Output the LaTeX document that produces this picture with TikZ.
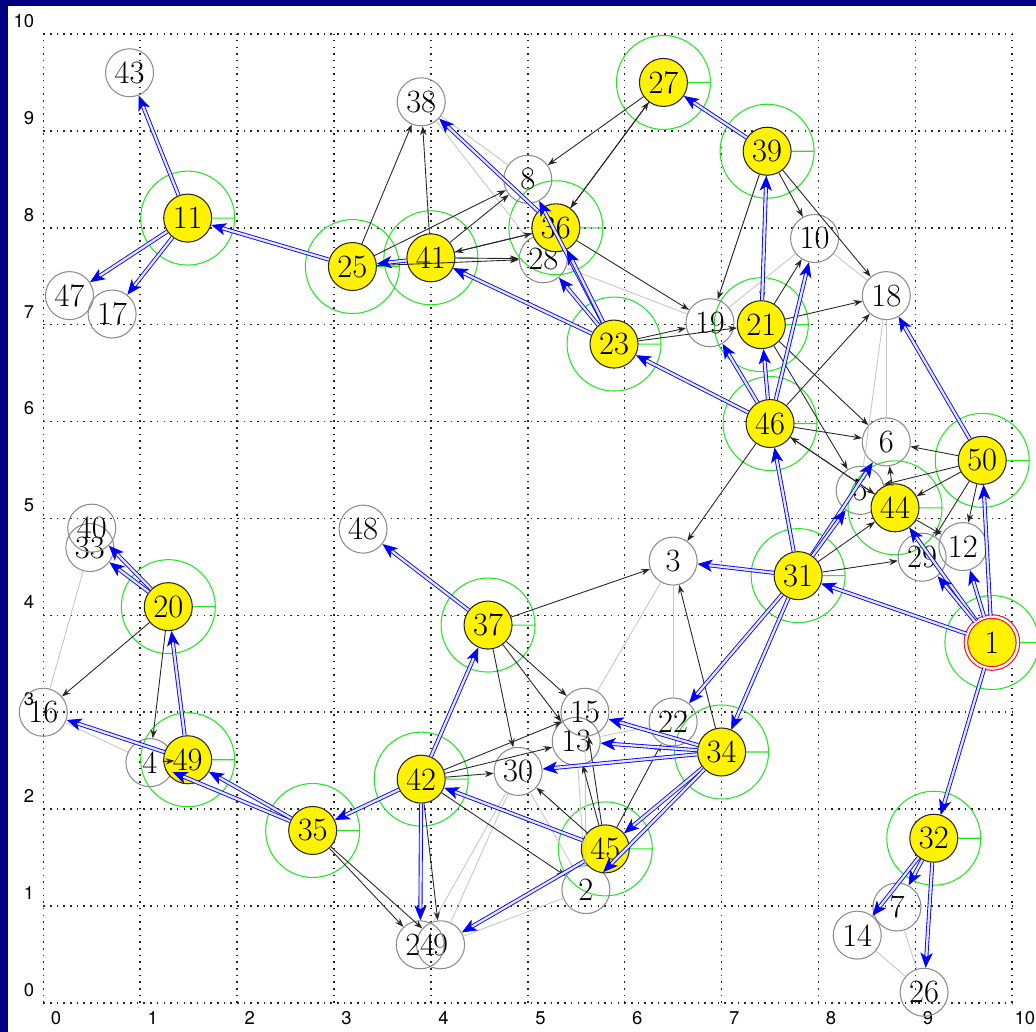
\documentclass[tikz,border=0pt]{standalone}
\usepackage{fontspec}
\newfontfamily\tickfont{TeX Gyre Heros}
\usepackage{tikz}
\usetikzlibrary{arrows.meta,backgrounds}
\definecolor{frame}{HTML}{000080}
\definecolor{ringgreen}{HTML}{22E622}
\definecolor{flowblue}{HTML}{0000FF}

\begin{document}
\begin{tikzpicture}[x=1.938cm,y=1.938cm,
    plain/.style={circle,draw=black!45,line width=0.6pt,minimum size=0.96cm,
                  inner sep=0pt,font=\fontsize{18.5}{20}\selectfont},
    hub/.style={plain,draw=black!85,fill=yellow},
    root/.style={hub,draw=red,double=white,double distance=1.4pt,minimum size=1.04cm},
    ring/.style={ringgreen,line width=0.6pt},
    gridline/.style={black!85,line width=0.9pt,dash pattern=on 0.9pt off 2.9pt},
    tick/.style={font=\tickfont\fontsize{10.5}{12}\selectfont,inner sep=0pt},
    arr/.style={-{Stealth[length=5pt,width=3.6pt]},black!85,line width=0.5pt},
    flow/.style={-{Stealth[length=8.5pt,width=7pt,inset=2.2pt]},draw=flowblue,
                 double=blue!10,double distance=1.3pt,line width=0.5pt},
    link/.style={black!22,line width=0.5pt}]
  \useasboundingbox (-0.447,-0.299) rectangle (10.245,10.351);

  % sensors
  \node[root] (n1) at (9.79,3.72) {1};
  \node[plain] (n2) at (5.60,1.17) {2};
  \node[plain] (n3) at (6.50,4.56) {3};
  \node[plain] (n4) at (1.10,2.48) {4};
  \node[plain] (n5) at (8.43,5.29) {5};
  \node[plain] (n6) at (8.70,5.79) {6};
  \node[plain] (n7) at (8.81,0.99) {7};
  \node[plain] (n8) at (5.00,8.50) {8};
  \node[plain] (n9) at (4.10,0.60) {9};
  \node[plain] (n10) at (7.96,7.89) {10};
  \node[hub] (n11) at (1.49,8.10) {11};
  \node[plain] (n12) at (9.49,4.71) {12};
  \node[plain] (n13) at (5.50,2.70) {13};
  \node[plain] (n14) at (8.40,0.70) {14};
  \node[plain] (n15) at (5.59,3.00) {15};
  \node[plain] (n16) at (0.00,3.00) {16};
  \node[plain] (n17) at (0.71,7.11) {17};
  \node[plain] (n18) at (8.70,7.30) {18};
  \node[plain] (n19) at (6.88,7.02) {19};
  \node[hub] (n20) at (1.29,4.09) {20};
  \node[hub] (n21) at (7.41,7.00) {21};
  \node[plain] (n22) at (6.50,2.90) {22};
  \node[hub] (n23) at (5.89,6.80) {23};
  \node[plain] (n24) at (3.89,0.60) {24};
  \node[hub] (n25) at (3.19,7.60) {25};
  \node[plain] (n26) at (9.09,0.11) {26};
  \node[hub] (n27) at (6.40,9.50) {27};
  \node[plain] (n28) at (5.16,7.68) {28};
  \node[plain] (n29) at (9.07,4.60) {29};
  \node[plain] (n30) at (4.90,2.39) {30};
  \node[hub] (n31) at (7.79,4.41) {31};
  \node[hub] (n32) at (9.19,1.70) {32};
  \node[plain] (n33) at (0.48,4.70) {33};
  \node[hub] (n34) at (7.00,2.59) {34};
  \node[hub] (n35) at (2.78,1.78) {35};
  \node[hub] (n36) at (5.29,8.00) {36};
  \node[hub] (n37) at (4.59,3.90) {37};
  \node[plain] (n38) at (3.90,9.30) {38};
  \node[hub] (n39) at (7.47,8.79) {39};
  \node[plain] (n40) at (0.50,4.90) {40};
  \node[hub] (n41) at (4.00,7.69) {41};
  \node[hub] (n42) at (3.90,2.31) {42};
  \node[plain] (n43) at (0.89,9.60) {43};
  \node[hub] (n44) at (8.79,5.11) {44};
  \node[hub] (n45) at (5.80,1.59) {45};
  \node[hub] (n46) at (7.50,5.98) {46};
  \node[plain] (n47) at (0.27,7.30) {47};
  \node[plain] (n48) at (3.30,4.89) {48};
  \node[hub] (n49) at (1.49,2.51) {49};
  \node[hub] (n50) at (9.69,5.60) {50};

  % plain links
  \draw[link] (n38) -- (n28);
  \draw[link] (n38) -- (n8);
  \draw[link] (n28) -- (n19);
  \draw[link] (n19) -- (n10);
  \draw[link] (n10) -- (n18);
  \draw[link] (n18) -- (n6);
  \draw[link] (n18) -- (n5);
  \draw[link] (n3) -- (n22);
  \draw[link] (n3) -- (n15);
  \draw[link] (n13) -- (n2);
  \draw[link] (n15) -- (n2);
  \draw[link] (n30) -- (n2);
  \draw[link] (n30) -- (n24);
  \draw[link] (n30) -- (n9);
  \draw[link] (n2) -- (n9);
  \draw[link] (n13) -- (n22);
  \draw[link] (n4) -- (n16);
  \draw[link] (n16) -- (n33);
  \draw[link] (n14) -- (n26);
  \draw[link] (n7) -- (n26);

  % black arrows
  \draw[arr] (n25) -- (n38);
  \draw[arr] (n41) -- (n38);
  \draw[arr] (n25) -- (n8);
  \draw[arr] (n41) -- (n8);
  \draw[arr] (n41) -- (n36);
  \draw[arr] (n36) -- (n41);
  \draw[arr] (n25) -- (n28);
  \draw[arr] (n41) -- (n28);
  \draw[arr] (n27) -- (n8);
  \draw[arr] (n27) -- (n36);
  \draw[arr] (n36) -- (n27);
  \draw[arr] (n36) -- (n19);
  \draw[arr] (n23) -- (n36);
  \draw[arr] (n23) -- (n41);
  \draw[arr] (n23) -- (n19);
  \draw[arr] (n23) -- (n21);
  \draw[arr] (n39) -- (n21);
  \draw[arr] (n39) -- (n19);
  \draw[arr] (n39) -- (n10);
  \draw[arr] (n39) -- (n18);
  \draw[arr] (n21) -- (n10);
  \draw[arr] (n21) -- (n18);
  \draw[arr] (n46) -- (n18);
  \draw[arr] (n21) -- (n6);
  \draw[arr] (n21) -- (n5);
  \draw[arr] (n46) -- (n6);
  \draw[arr] (n46) -- (n44);
  \draw[arr] (n44) -- (n46);
  \draw[arr] (n46) -- (n3);
  \draw[arr] (n31) -- (n46);
  \draw[arr] (n31) -- (n44);
  \draw[arr] (n31) -- (n29);
  \draw[arr] (n31) -- (n34);
  \draw[arr] (n1) -- (n31);
  \draw[arr] (n1) -- (n44);
  \draw[arr] (n1) -- (n50);
  \draw[arr] (n1) -- (n32);
  \draw[arr] (n50) -- (n6);
  \draw[arr] (n50) -- (n44);
  \draw[arr] (n50) -- (n5);
  \draw[arr] (n50) -- (n12);
  \draw[arr] (n50) -- (n29);
  \draw[arr] (n44) -- (n6);
  \draw[arr] (n44) -- (n12);
  \draw[arr] (n37) -- (n3);
  \draw[arr] (n37) -- (n15);
  \draw[arr] (n37) -- (n13);
  \draw[arr] (n37) -- (n30);
  \draw[arr] (n42) -- (n15);
  \draw[arr] (n42) -- (n13);
  \draw[arr] (n42) -- (n30);
  \draw[arr] (n42) -- (n2);
  \draw[arr] (n42) -- (n9);
  \draw[arr] (n45) -- (n30);
  \draw[arr] (n45) -- (n13);
  \draw[arr] (n45) -- (n15);
  \draw[arr] (n45) -- (n22);
  \draw[arr] (n34) -- (n45);
  \draw[arr] (n34) -- (n3);
  \draw[arr] (n35) -- (n24);
  \draw[arr] (n35) -- (n9);
  \draw[arr] (n35) -- (n49);
  \draw[arr] (n20) -- (n4);
  \draw[arr] (n20) -- (n16);
  \draw[arr] (n49) -- (n4);

  % blue routes
  \draw[flow] (n11) -- (n43);
  \draw[flow] (n11) -- (n47);
  \draw[flow] (n11) -- (n17);
  \draw[flow] (n25) -- (n11);
  \draw[flow] (n41) -- (n25);
  \draw[flow] (n36) -- (n38);
  \draw[flow] (n23) -- (n8);
  \draw[flow] (n23) -- (n28);
  \draw[flow] (n23) -- (n36);
  \draw[flow] (n23) -- (n41);
  \draw[flow] (n39) -- (n27);
  \draw[flow] (n21) -- (n39);
  \draw[flow] (n46) -- (n23);
  \draw[flow] (n46) -- (n19);
  \draw[flow] (n46) -- (n21);
  \draw[flow] (n46) -- (n10);
  \draw[flow] (n50) -- (n18);
  \draw[flow] (n31) -- (n46);
  \draw[flow] (n31) -- (n3);
  \draw[flow] (n31) -- (n6);
  \draw[flow] (n31) -- (n5);
  \draw[flow] (n31) -- (n22);
  \draw[flow] (n31) -- (n34);
  \draw[flow] (n1) -- (n31);
  \draw[flow] (n1) -- (n44);
  \draw[flow] (n1) -- (n29);
  \draw[flow] (n1) -- (n12);
  \draw[flow] (n1) -- (n50);
  \draw[flow] (n1) -- (n32);
  \draw[flow] (n32) -- (n7);
  \draw[flow] (n32) -- (n14);
  \draw[flow] (n32) -- (n26);
  \draw[flow] (n37) -- (n48);
  \draw[flow] (n42) -- (n37);
  \draw[flow] (n42) -- (n35);
  \draw[flow] (n42) -- (n24);
  \draw[flow] (n45) -- (n42);
  \draw[flow] (n45) -- (n9);
  \draw[flow] (n34) -- (n15);
  \draw[flow] (n34) -- (n13);
  \draw[flow] (n34) -- (n30);
  \draw[flow] (n34) -- (n45);
  \draw[flow] (n34) -- (n2);
  \draw[flow] (n35) -- (n4);
  \draw[flow] (n35) -- (n49);
  \draw[flow] (n49) -- (n16);
  \draw[flow] (n49) -- (n20);
  \draw[flow] (n20) -- (n40);
  \draw[flow] (n20) -- (n33);

  \begin{scope}[on background layer]
    \fill[frame] (-0.447,-0.299) rectangle (10.245,10.351);
    \fill[white] (-0.364,-0.299) rectangle (10.245,10.289);
    \foreach \i in {0,...,10} {
      \draw[gridline] (\i,0) -- (\i,10);
      \draw[gridline] (0,\i) -- (10,\i);
      \node[tick] at (\i+0.13,-0.155) {\i};
      \node[tick,anchor=east] at (-0.09,\i+0.135) {\i};
    }
    % coverage rings of the active nodes
    \foreach \n in {1,11,20,21,23,25,27,31,32,34,35,36,37,39,41,42,44,45,46,49,50}
      \draw[ring] (n\n.center) circle (0.94cm) (n\n.east) -- ([xshift=0.94cm]n\n.center);
  \end{scope}
\end{tikzpicture}
\end{document}
